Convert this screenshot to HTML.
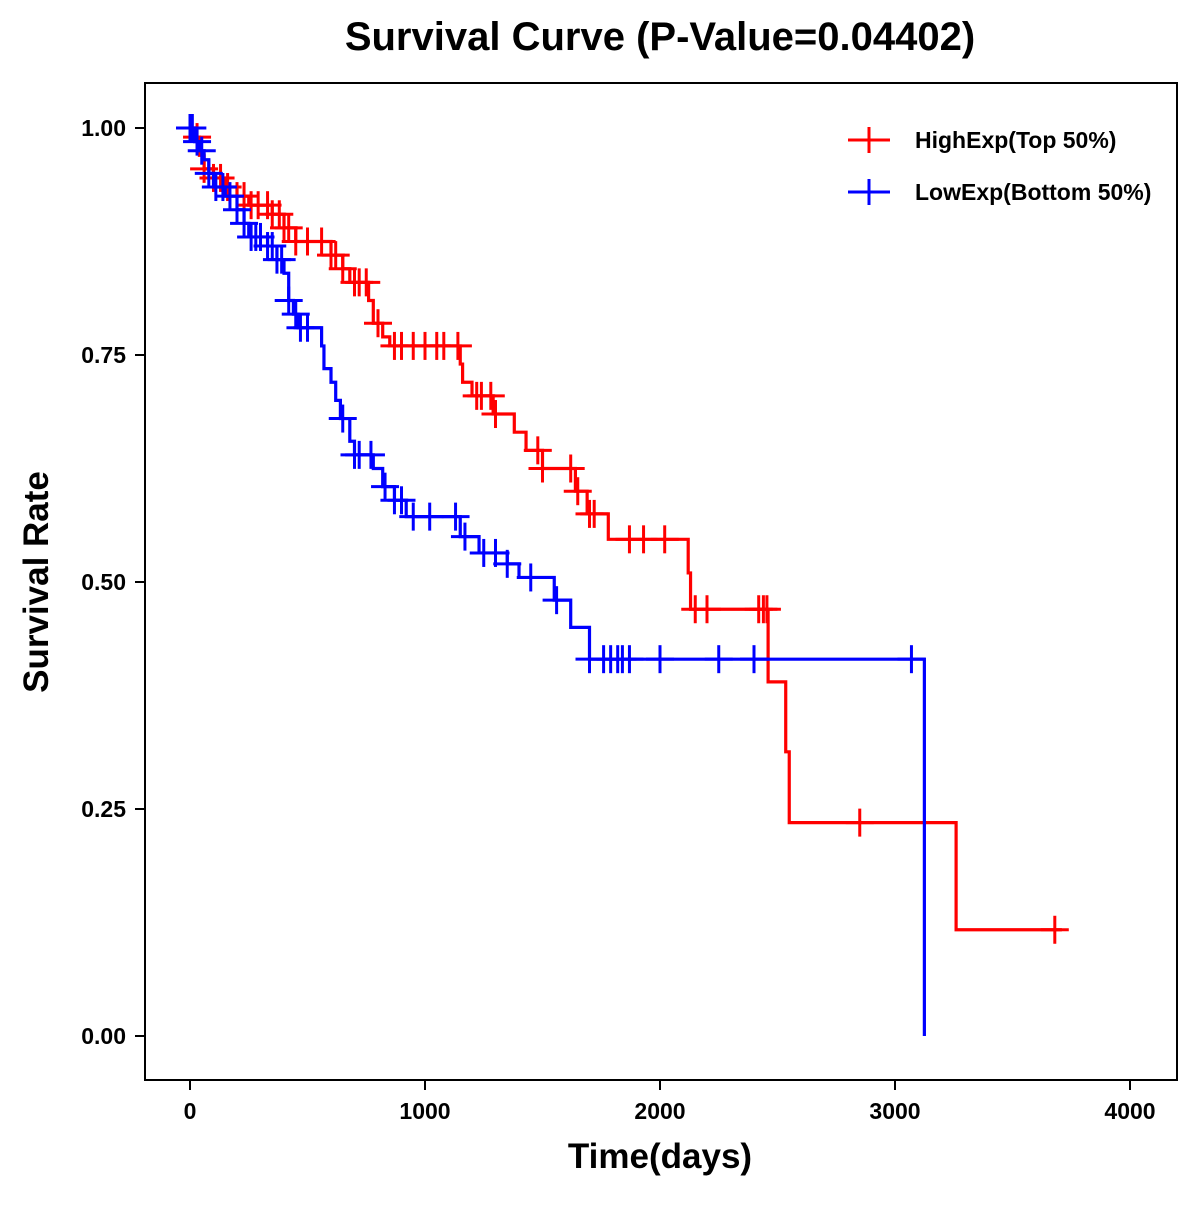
<!DOCTYPE html>
<html><head><meta charset="utf-8"><style>
body{margin:0;background:#fff;}
svg text{font-family:"Liberation Sans",Arial,sans-serif;font-weight:bold;fill:#000;}
</style></head><body>
<svg id="chart" width="1200" height="1200" xmlns="http://www.w3.org/2000/svg">
<text x="660" y="50" font-size="40" text-anchor="middle">Survival Curve (P-Value=0.04402)</text>
<rect x="145" y="83" width="1032" height="997" fill="none" stroke="#000" stroke-width="2"/>
<text x="660" y="1168" font-size="35" text-anchor="middle">Time(days)</text>
<text x="48" y="582" font-size="35" text-anchor="middle" transform="rotate(-90 48 582)">Survival Rate</text>
<g id="axes"></g>
<g id="series"></g>
<g>
<line x1="848" y1="140" x2="890" y2="140" stroke="#f00" stroke-width="3"/><line x1="869" y1="127" x2="869" y2="153" stroke="#f00" stroke-width="3"/>
<text x="915" y="148" font-size="23">HighExp(Top 50%)</text>
<line x1="848" y1="192" x2="890" y2="192" stroke="#00f" stroke-width="3"/><line x1="869" y1="179" x2="869" y2="205" stroke="#00f" stroke-width="3"/>
<text x="915" y="200" font-size="23">LowExp(Bottom 50%)</text>
</g>
</svg>
<script>
const xTicks=[0,1000,2000,3000,4000];
const yTicks=[0,0.25,0.5,0.75,1.0];
const yTickLabels=["0.00","0.25","0.50","0.75","1.00"];
const highTimes=[0,20,40,60,100,150,200,250,350,400,450,600,650,680,760,780,820,850,1150,1160,1200,1290,1380,1430,1500,1640,1690,1780,2120,2130,2460,2535,2550,3260];
const highSurv=[1.0,0.99,0.97,0.955,0.945,0.935,0.925,0.915,0.905,0.89,0.875,0.86,0.845,0.83,0.81,0.785,0.77,0.76,0.74,0.72,0.705,0.685,0.665,0.645,0.625,0.6,0.575,0.547,0.51,0.47,0.39,0.313,0.235,0.117];
const highEnd=3710;
const highCensor=[30,60,100,130,160,200,230,260,290,330,350,380,400,420,450,500,560,600,620,650,700,720,750,800,870,900,950,1000,1050,1080,1140,1220,1240,1280,1300,1480,1500,1620,1650,1700,1720,1870,1930,2020,2150,2200,2420,2440,2455,2850,3680];
const lowTimes=[0,20,40,60,80,100,150,200,230,250,330,370,400,420,440,460,560,570,600,620,640,680,700,780,820,870,920,1150,1230,1350,1400,1550,1620,1700,3125];
const lowSurv=[1.0,0.985,0.975,0.965,0.95,0.935,0.925,0.91,0.895,0.88,0.87,0.855,0.84,0.81,0.795,0.78,0.76,0.735,0.72,0.7,0.68,0.655,0.64,0.625,0.605,0.59,0.572,0.55,0.532,0.52,0.505,0.48,0.45,0.415,0.0];
const lowEnd=3125;
const lowCensor=[0,10,30,50,80,110,140,170,200,230,260,280,300,330,350,370,390,420,450,470,500,650,700,720,770,830,870,900,950,1020,1130,1170,1250,1300,1350,1450,1560,1700,1760,1790,1820,1840,1870,2000,2250,2400,3070];

const X=t=>190+t*0.235;
const Y=s=>1036-s*908;
const NS="http://www.w3.org/2000/svg";
function mk(tag,attrs,parent){const e=document.createElementNS(NS,tag);for(const k in attrs)e.setAttribute(k,attrs[k]);parent.appendChild(e);return e;}
const axes=document.getElementById('axes');
xTicks.forEach(t=>{
  const l=mk('line',{x1:X(t),x2:X(t),y1:1080,y2:1090,stroke:'#000','stroke-width':2},axes);
  
  
  const tx=mk('text',{x:X(t),y:1119,'font-size':23,'text-anchor':'middle'},axes);tx.textContent=t;
  
  
});
yTicks.forEach((v,i)=>{
  const l=mk('line',{x1:135,x2:145,y1:Y(v),y2:Y(v),stroke:'#000','stroke-width':2},axes);
  
  
  const tx=mk('text',{x:126,y:Y(v)+8,'font-size':23,'text-anchor':'end'},axes);tx.textContent=yTickLabels[i];
  
  
});
function survAt(times,surv,t){let s=surv[0];for(let i=0;i<times.length;i++){if(times[i]<=t)s=surv[i];}return s;}
const ser=document.getElementById('series');
function draw(times,surv,end,cens,color,name){
  let d='M'+X(times[0])+','+Y(surv[0]);
  for(let i=1;i<times.length;i++){d+=' H'+X(times[i])+' V'+Y(surv[i]);}
  d+=' H'+X(end);
  const p=mk('path',{d:d,fill:'none',stroke:color,'stroke-width':3.2},ser);
  
  
  cens.forEach(t=>{
    const s=survAt(times,surv,t);const g=mk('g',{},ser);
    
    
    mk('line',{x1:X(t)-14,x2:X(t)+14,y1:Y(s),y2:Y(s),stroke:color,'stroke-width':3},g);
    mk('line',{x1:X(t),x2:X(t),y1:Y(s)-14,y2:Y(s)+14,stroke:color,'stroke-width':3},g);
  });
}
draw(highTimes,highSurv,highEnd,highCensor,'#f00','high-exp');
draw(lowTimes,lowSurv,lowEnd,lowCensor,'#00f','low-exp');
</script>
</body></html>
